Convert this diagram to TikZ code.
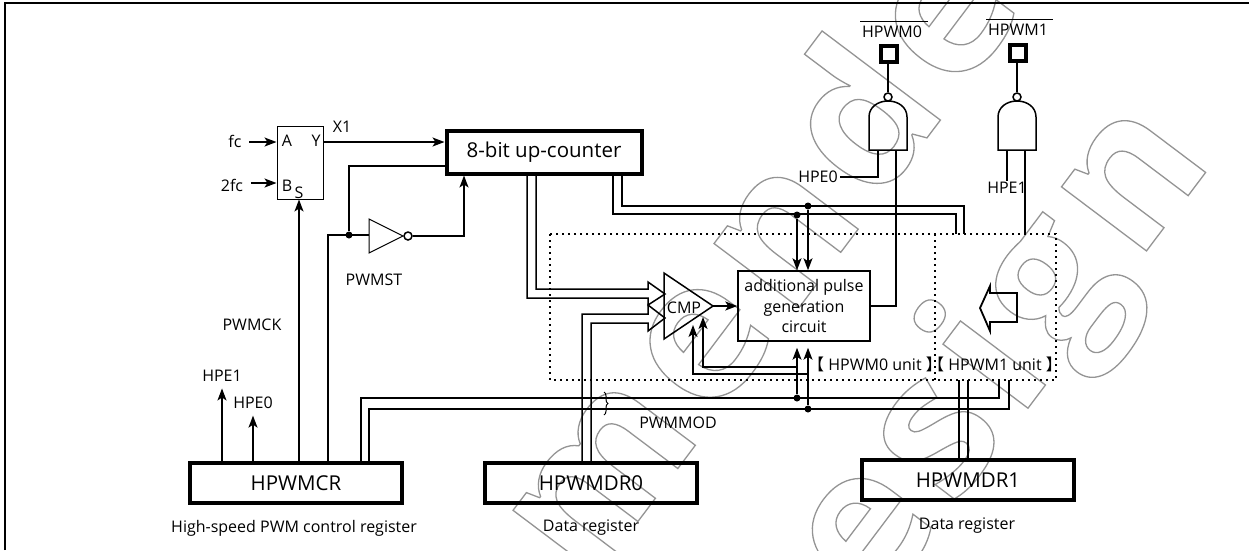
\documentclass[tikz,border=0pt]{standalone}
\usepackage{fontspec}
\setmainfont{Open Sans}
\newfontfamily\cjk{Noto Sans CJK JP}
\newfontfamily\wmfont[LetterSpace=7]{Open Sans}
\usetikzlibrary{arrows.meta,decorations.pathreplacing}
\newcommand{\wmark}[1]{\special{pdf:code 1 Tr 1.3 w}#1\special{pdf:code 0 Tr}}

\begin{document}
\begin{tikzpicture}[x=1pt,y=-1pt,>={Stealth[length=12pt,width=9pt,inset=3pt]},line width=1.5pt,
   reg/.style={draw,line width=4pt,inner sep=0pt,font=\fontsize{20.5}{22}\selectfont},
   lbl/.style={inner sep=1pt,font=\fontsize{16}{18}\selectfont},
   dot/.style={circle,fill,inner sep=0pt,minimum size=7pt},
   bub/.style={circle,draw,fill=white,inner sep=0pt,minimum size=8pt},
   pad/.style={draw,line width=3.5pt,inner sep=0pt,minimum size=16pt},
   dotbox/.style={line width=1.8pt,dash pattern=on 1.8pt off 4.2pt},
   wm/.style={inner sep=0pt,rotate=53,anchor=base east,text=black!42,font=\fontsize{195}{200}\wmfont\bfseries}]
  \useasboundingbox (0,0) rectangle (1249,550);
  % watermark
  \node[wm] (wmA) at (1110,-105) {\wmark{Recommended}};
  \node[wm] (wmB) at (1215,160) {\wmark{New Design}};
  % frame
  \draw[line width=2.5pt] (5,550) -- (5,3) -- (1249,3);
  % registers and counter
  \node[reg,minimum width=212pt,minimum height=40pt] (hpwmcr) at (296,483) {HPWMCR};
  \node[reg,minimum width=212pt,minimum height=40pt] (dr0) at (591,483) {HPWMDR0};
  \node[reg,minimum width=212pt,minimum height=40pt] (dr1) at (968,480) {HPWMDR1};
  \node[reg,minimum width=195pt,minimum height=43pt] (cnt) at (544,152) {8-bit up-counter};
  \node[draw,minimum width=132pt,minimum height=70pt,inner sep=0pt,align=center,lbl,font=\fontsize{16}{20.5}\selectfont] (pulse) at (804,306) {additional pulse\\generation\\circuit};
  \node[draw,line width=1pt,minimum width=46pt,minimum height=73pt,inner sep=0pt] (mux) at (300,162.5) {};
  \node[lbl] (la) at (287,141) {A};
  \node[lbl] (ly) at (316,141) {Y};
  \node[lbl] (lb) at (287,186) {B};
  \node[lbl] (ls) at (299,193) {S};
  \node[lbl] (fc) at (235,141) {fc};
  \node[lbl] (twofc) at (232,185) {2fc};
  \node[lbl] (xone) at (342,127) {X1};
  \node[lbl] (pwmst) at (374,280) {PWMST};
  \node[lbl] (pwmck) at (252,325) {PWMCK};
  \node[lbl] (hpeA) at (222,376) {HPE1};
  \node[lbl] (hpeB) at (253,403) {HPE0};
  \node[lbl] (pwmmod) at (678,423) {PWMMOD};
  \node[lbl] at (294,528) {High-speed PWM control register};
  \node[lbl] at (591,528) {Data register};
  \node[lbl] at (967,526) {Data register};
  \node[lbl] (hpeC) at (818,177) {HPE0};
  \node[lbl] (hpeD) at (1007,188) {HPE1};
  \node[lbl] (ohA) at (892,32) {HPWM0};
  \node[lbl] (ohB) at (1018,30) {HPWM1};
  \draw[line width=1pt] (860,21) -- (928,21);
  \draw[line width=1pt] (986,19) -- (1053,19);
  % unit boxes
  \draw[dotbox] (550,234) rectangle (1056,380);
  \draw[dotbox] (935,234) -- (935,380);
  \coordinate (utop) at (0,234);
  \coordinate (ubot) at (0,380);
  \node[lbl] (unitA) at (875,364) {{\cjk【} HPWM0 unit {\cjk】}};
  \node[lbl] (unitB) at (995,364) {{\cjk【} HPWM1 unit {\cjk】}};
  % mux inputs, counter clock
  \draw[->] (fc.east)++(6,1) -- (mux.west |- 0,142);
  \draw[->] (twofc.east)++(6,-2) -- (mux.west |- 0,183);
  \draw[->] (mux.east |- 0,142) -- (cnt.west |- 0,142);
  \draw[->] (299,0 |- hpwmcr.north) -- (299,0 |- mux.south);
  \draw[->] (222,0 |- hpwmcr.north) -- ([yshift=-5pt]hpeA.south);
  \draw[->] (253,0 |- hpwmcr.north) -- ([yshift=-5pt]hpeB.south);
  % inverter
  \node[dot] (jst) at (349,235) {};
  \node[bub] (invb) at (408,236) {};
  \draw[line width=1pt] (369,219) -- (369,253) -- (403,236) -- cycle;
  \draw (cnt.west |- 0,166) -| (jst);
  \draw (328,0 |- hpwmcr.north) |- (369,235);
  \draw[->] (invb.east) -| (464,0 |- cnt.south);
  % comparator
  \draw (664,273) -- (664,339) -- (713,306) -- cycle;
  \node[lbl] (cmp) at (684,308) {CMP};
  \draw[->] (713,306) -- (pulse.west |- 0,306);
  \draw (536,0 |- cnt.south) |- (648,289) -- (648,282) -- (665,294) -- (648,305) -- (648,298) -- (527,298) -- (527,0 |- cnt.south);
  \draw (582,0 |- dr0.north) |- (648,314) -- (648,305) -- (665,318) -- (648,331) -- (648,323) -- (591,323) -- (591,0 |- dr0.north);
  % buses
  \node[dot] (jA) at (808,206) {};
  \node[dot] (jB) at (797,215) {};
  \node[dot] (jC) at (797,398) {};
  \node[dot] (jD) at (808,409) {};
  \draw (622,0 |- cnt.south) |- (964,206) -- (964,0 |- utop);
  \draw (613,0 |- cnt.south) |- (956,214) -- (956,0 |- utop);
  \draw[->] (jA) -- (808,0 |- pulse.north);
  \draw[->] (jB) -- (797,0 |- pulse.north);
  \draw[->] (jC) -- ([yshift=-6pt]797,0 |- pulse.south);
  \draw[->] (jD) -- ([yshift=-6pt]808,0 |- pulse.south);
  \draw[->] (797,367) -| (703,317);
  \draw[->] (808,374) -| (693,325);
  \draw (361,0 |- hpwmcr.north) |- (999,398) -- (999,0 |- ubot);
  \draw (369,0 |- hpwmcr.north) |- (1009,409) -- (1009,0 |- ubot);
  \draw (959,0 |- dr1.north) -- (959,0 |- ubot);
  \draw (968,0 |- dr1.north) -- (968,0 |- ubot);
  \draw[line width=1pt,decorate,decoration={brace,amplitude=4pt}] (604,392) -- (604,415);
  % gates
  \foreach \gx in {869,998} {
    \draw (\gx,150) -- (\gx,117) .. controls (\gx,107) and (\gx+9,101) .. (\gx+19,101)
      .. controls (\gx+29,101) and (\gx+38,107) .. (\gx+38,117) -- (\gx+38,150) -- cycle;
  }
  \node[pad] (padA) at (889,54) {};
  \node[pad] (padB) at (1018,53) {};
  \node[bub] (bubA) at (888,97) {};
  \node[bub] (bubB) at (1017,97) {};
  \draw (bubA) -- (bubA |- padA.south);
  \draw (bubB) -- (bubB |- padB.south);
  \draw (878,150) |- (hpeC.east);
  \draw (896,150) |- (pulse.east |- 0,306);
  \draw (1007,150) -- (hpeD.north);
  \draw (1025,150) -- (1025,0 |- utop);
  % hollow arrow
  \draw[line width=1.8pt] (1017,293) -- (990,293) -- (990,286) -- (980,308) -- (990,331) -- (990,322) -- (1017,322) -- cycle;
\end{tikzpicture}
\end{document}
